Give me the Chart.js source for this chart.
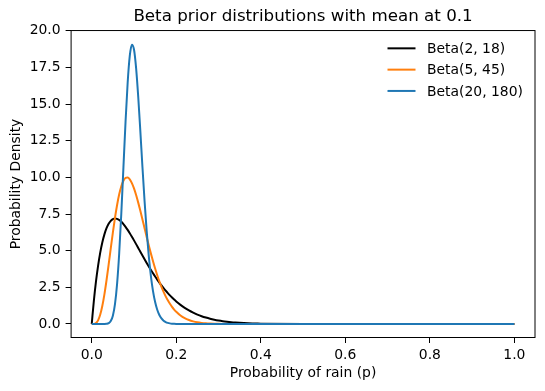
<!DOCTYPE html>
<html>
<head>
<meta charset="utf-8">
<title>Beta priors</title>
<script src="https://cdn.jsdelivr.net/npm/chart.js@4"></script>
<style>
  html, body { margin: 0; padding: 0; background: #fff; }
  #chart { display: block; }
</style>
</head>
<body>
<canvas id="chart" width="545" height="391"></canvas>
<script>
// p values (x axis)
const pValues = [
  0, 0.005, 0.01, 0.015, 0.02, 0.025, 0.03, 0.035, 0.04, 0.045,
  0.05, 0.055, 0.06, 0.065, 0.07, 0.075, 0.08, 0.085, 0.09, 0.095,
  0.1, 0.105, 0.11, 0.115, 0.12, 0.125, 0.13, 0.135, 0.14, 0.145,
  0.15, 0.155, 0.16, 0.165, 0.17, 0.175, 0.18, 0.185, 0.19, 0.195, 0.2,
  0.21, 0.22, 0.23, 0.24, 0.25, 0.26, 0.27, 0.28, 0.29, 0.3,
  0.31, 0.32, 0.33, 0.34, 0.35, 0.36, 0.37, 0.38, 0.39, 0.4,
  0.5, 0.6, 0.7, 0.8, 0.9, 1.0
];

// densities
const beta2_18 = [
  0, 1.570, 2.883, 3.968, 4.852, 5.560, 6.113, 6.532, 6.834, 7.036,
  7.150, 7.190, 7.167, 7.092, 6.972, 6.816, 6.630, 6.421, 6.194, 5.954,
  5.704, 5.448, 5.189, 4.929, 4.671, 4.417, 4.167, 3.923, 3.687, 3.458,
  3.238, 3.027, 2.825, 2.632, 2.449, 2.274, 2.110, 1.954, 1.808, 1.670, 1.540,
  1.306, 1.102, 0.925, 0.773, 0.643, 0.532, 0.439, 0.360, 0.294, 0.239,
  0.193, 0.156, 0.125, 0.100, 0.079, 0.062, 0.049, 0.038, 0.030, 0.023,
  0.001, 0, 0, 0, 0, 0
];

const beta5_45 = [
  0, 0.005, 0.061, 0.248, 0.627, 1.223, 2.022, 2.984, 4.050, 5.156,
  6.238, 7.240, 8.119, 8.844, 9.395, 9.767, 9.961, 9.988, 9.864, 9.610,
  9.246, 8.795, 8.279, 7.719, 7.132, 6.535, 5.941, 5.362, 4.805, 4.278,
  3.785, 3.329, 2.911, 2.532, 2.190, 1.885, 1.615, 1.377, 1.169, 0.987, 0.831,
  0.580, 0.399, 0.270, 0.180, 0.118, 0.077, 0.049, 0.031, 0.019, 0.012,
  0.007, 0.004, 0.003, 0.001, 0.001, 0, 0, 0, 0, 0,
  0, 0, 0, 0, 0, 0
];

const beta20_180 = [
  0, 0, 0, 0, 0, 0, 0.001, 0.011, 0.054, 0.197,
  0.570, 1.356, 2.740, 4.827, 7.557, 10.680, 13.797, 16.457, 18.283, 19.049,
  18.726, 17.456, 15.500, 13.157, 10.712, 8.390, 6.337, 4.626, 3.271, 2.244,
  1.495, 0.970, 0.613, 0.378, 0.227, 0.134, 0.077, 0.043, 0.024, 0.013, 0.007,
  0.002, 0, 0, 0, 0, 0, 0, 0, 0, 0,
  0, 0, 0, 0, 0, 0, 0, 0, 0, 0,
  0, 0, 0, 0, 0, 0
];

const seriesLabels = ['Beta(2, 18)', 'Beta(5, 45)', 'Beta(20, 180)'];
const seriesColors = ['#000000', '#ff7f0e', '#1f77b4'];

const xTickValues = [0, 0.2, 0.4, 0.6, 0.8, 1.0];
const xTickLabels = ['0.0', '0.2', '0.4', '0.6', '0.8', '1.0'];
const yTickValues = [0, 2.5, 5, 7.5, 10, 12.5, 15, 17.5, 20];
const yTickLabels = ['0.0', '2.5', '5.0', '7.5', '10.0', '12.5', '15.0', '17.5', '20.0'];

const FONT = 'DejaVu Sans';
const FONT_SIZE = 13.9;

function toPoints(ys) {
  return pValues.map((p, i) => ({ x: p, y: ys[i] }));
}

// frame round the plot area, like matplotlib spines
const framePlugin = {
  id: 'frame',
  afterDatasetsDraw(chart) {
    const { ctx, chartArea: a } = chart;
    ctx.save();
    ctx.strokeStyle = '#000';
    ctx.lineWidth = 1;
    ctx.strokeRect(a.left + 0.5, a.top + 0.5, a.right - a.left - 1, a.bottom - a.top - 1);
    ctx.restore();
  }
};

// legend without a box, upper right
const lineLegend = {
  id: 'lineLegend',
  afterDraw(chart) {
    const { ctx, chartArea: a } = chart;
    const x0 = a.right - 148;
    const y0 = a.top + 18.3;
    const rowH = 21.3;
    ctx.save();
    ctx.font = FONT_SIZE + 'px "' + FONT + '"';
    ctx.textBaseline = 'middle';
    ctx.textAlign = 'left';
    chart.data.datasets.forEach((ds, i) => {
      const y = y0 + i * rowH;
      ctx.strokeStyle = ds.borderColor;
      ctx.lineWidth = ds.borderWidth;
      ctx.beginPath();
      ctx.moveTo(x0, y);
      ctx.lineTo(x0 + 28, y);
      ctx.stroke();
      ctx.fillStyle = '#000';
      ctx.fillText(ds.label, x0 + 39.5, y + 1);
    });
    ctx.restore();
  }
};

const datasets = [beta2_18, beta5_45, beta20_180].map((ys, i) => ({
  label: seriesLabels[i],
  data: toPoints(ys),
  borderColor: seriesColors[i],
  backgroundColor: seriesColors[i],
  borderWidth: 2,
  pointRadius: 0,
  fill: false,
  cubicInterpolationMode: 'monotone',
  order: 3 - i
}));

new Chart(document.getElementById('chart'), {
  type: 'line',
  data: { datasets: datasets },
  options: {
    responsive: false,
    animation: false,
    devicePixelRatio: 1,
    layout: { padding: { left: 0, right: 9.5, top: 0, bottom: 0 } },
    plugins: {
      legend: { display: false },
      tooltip: { enabled: false },
      title: {
        display: true,
        fullSize: false,
        text: 'Beta prior distributions with mean at 0.1',
        color: '#000',
        font: { family: FONT, size: 16.7, weight: 'normal', lineHeight: 1.2 },
        padding: { top: 6.8, bottom: 3.2 }
      }
    },
    scales: {
      x: {
        type: 'linear',
        min: -0.05,
        max: 1.05,
        afterBuildTicks: (scale) => { scale.ticks = xTickValues.map(v => ({ value: v })); },
        afterFit: (scale) => { scale.height = 53; },
        ticks: {
          color: '#000',
          font: { family: FONT, size: FONT_SIZE },
          padding: 4.5,
          maxRotation: 0,
          callback: (value, index) => xTickLabels[index]
        },
        grid: { drawOnChartArea: false, drawTicks: true, tickLength: 5, tickColor: '#000', tickWidth: 1 },
        border: { display: false },
        title: {
          display: true,
          text: 'Probability of rain (p)',
          color: '#000',
          font: { family: FONT, size: FONT_SIZE, lineHeight: 1.2 },
          padding: { top: 0, bottom: 9 }
        }
      },
      y: {
        type: 'linear',
        min: -0.955,
        max: 20.05,
        afterBuildTicks: (scale) => { scale.ticks = yTickValues.map(v => ({ value: v })); },
        afterFit: (scale) => { scale.width = 70.6; },
        ticks: {
          color: '#000',
          font: { family: FONT, size: FONT_SIZE },
          padding: 5,
          callback: (value, index) => yTickLabels[index]
        },
        grid: { drawOnChartArea: false, drawTicks: true, tickLength: 5, tickColor: '#000', tickWidth: 1 },
        border: { display: false },
        title: {
          display: true,
          text: 'Probability Density',
          color: '#000',
          font: { family: FONT, size: FONT_SIZE, lineHeight: 1.2 },
          padding: { top: 8, bottom: 0 }
        }
      }
    }
  },
  plugins: [framePlugin, lineLegend]
});
</script>
</body>
</html>
